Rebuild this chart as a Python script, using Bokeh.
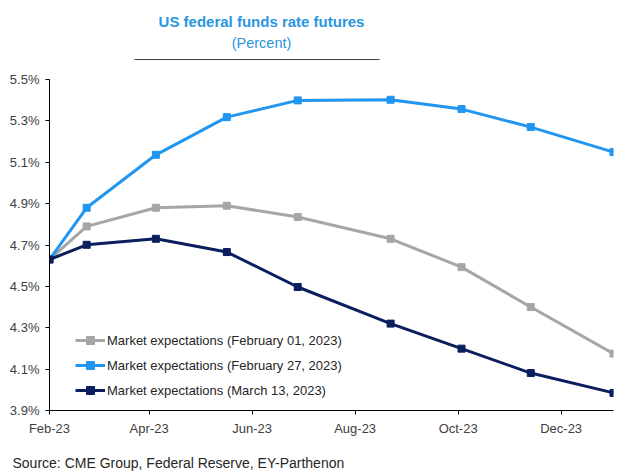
import pandas as pd
from bokeh.plotting import figure
from bokeh.layouts import column
from bokeh.core.properties import value
from bokeh.models import (FixedTicker, PrintfTickFormatter, DatetimeTickFormatter,
                          Range1d, ColumnDataSource, Legend, LegendItem)
from bokeh.embed import file_html
from bokeh.resources import INLINE

# ---- data ----
dates = ["2023-02-01", "2023-02-23", "2023-04-05", "2023-05-17", "2023-06-28",
         "2023-08-22", "2023-10-03", "2023-11-13", "2024-01-01"]
feb01 = [4.63, 4.79, 4.88, 4.89, 4.835, 4.73, 4.593, 4.40, 4.175]
feb27 = [4.63, 4.88, 5.136, 5.318, 5.399, 5.402, 5.357, 5.27, 5.149]
mar13 = [4.63, 4.701, 4.73, 4.666, 4.497, 4.32, 4.199, 4.081, 3.985]
series_names = ["Market expectations (February 01, 2023)",
                "Market expectations (February 27, 2023)",
                "Market expectations (March 13, 2023)"]
series_colors = ["#A6A6A6", "#2196F0", "#0B1F5E"]
x_tick_dates = ["2023-02-01", "2023-04-01", "2023-06-01", "2023-08-01", "2023-10-01", "2023-12-01"]
y_ticks = [3.9, 4.1, 4.3, 4.5, 4.7, 4.9, 5.1, 5.3, 5.5]
title_text = "US federal funds rate futures"
subtitle_text = "(Percent)"
source_text = "Source: CME Group, Federal Reserve, EY-Parthenon"

x = pd.to_datetime(dates)
FONT = "Liberation Sans"
TITLE_COLOR = "#2A95DF"


def blank(h):
    f = figure(width=630, height=h, output_backend="svg", toolbar_location=None,
               x_range=Range1d(0, 630), y_range=Range1d(h, 0),
               x_axis_location=None, y_axis_location=None,
               min_border=0, min_border_left=0, min_border_right=0,
               min_border_top=0, min_border_bottom=0, frame_align=False)
    f.outline_line_color = None
    f.xgrid.visible = False
    f.ygrid.visible = False
    return f

# ---- header ----
header = blank(71)
header.text(x=[261], y=[21], text=[title_text], text_align="center", text_baseline="middle",
            text_font=value(FONT), text_font_style="bold",
            text_font_size="15px", text_color=TITLE_COLOR)
header.text(x=[261], y=[42], text=[subtitle_text], text_align="center", text_baseline="middle",
            text_font=value(FONT), text_font_size="14.5px",
            text_color=TITLE_COLOR)
header.segment(x0=[134], y0=[59], x1=[379], y1=[59], line_color="#404040", line_width=1.2)

# ---- main chart ----
p = figure(width=630, height=369, output_backend="svg", toolbar_location=None,
           x_axis_type="datetime",
           x_range=Range1d(pd.Timestamp("2023-02-01"), pd.Timestamp("2024-01-01")),
           y_range=Range1d(3.9, 5.5),
           min_border_left=49, min_border_right=17, min_border_top=8, min_border_bottom=30,
           frame_align=False)
p.outline_line_color = None
p.xgrid.visible = False
p.ygrid.visible = False

items = []
for vals, name, col in zip([feb01, feb27, mar13], series_names, series_colors):
    src = ColumnDataSource(dict(x=x, y=vals))
    r1 = p.line("x", "y", source=src, line_color=col, line_width=3)
    r2 = p.scatter("x", "y", source=src, marker="square", size=7, fill_color=col, line_color=col)
    items.append(LegendItem(label=name, renderers=[r1, r2]))

legend = Legend(items=items, location=(26, 10), border_line_color=None,
                background_fill_alpha=0, glyph_width=30, glyph_height=20, spacing=5,
                padding=0, margin=0, label_standoff=2, label_text_font=FONT,
                label_text_font_size="13px", label_text_color="#262626")
p.add_layout(legend, "center")

xa = p.xaxis[0]
xa.ticker = FixedTicker(ticks=[pd.Timestamp(d).value / 1e6 for d in x_tick_dates])
xa.formatter = DatetimeTickFormatter(days="%b-%y", months="%b-%y", years="%b-%y")
xa.minor_tick_line_color = None
xa.major_tick_in = 0
xa.major_tick_out = 4
xa.axis_line_color = "black"
xa.major_tick_line_color = "black"
xa.major_label_text_font = FONT
xa.major_label_text_font_size = "13px"
xa.major_label_text_color = "#404040"
xa.major_label_standoff = 6

ya = p.yaxis[0]
ya.ticker = FixedTicker(ticks=y_ticks)
ya.formatter = PrintfTickFormatter(format="%.1f%%")
ya.minor_tick_line_color = None
ya.major_tick_in = 0
ya.major_tick_out = 4
ya.axis_line_color = "black"
ya.major_tick_line_color = "black"
ya.major_label_text_font = FONT
ya.major_label_text_font_size = "13px"
ya.major_label_text_color = "#404040"
ya.major_label_standoff = 6

# ---- footer ----
footer = blank(33)
footer.text(x=[12], y=[22], text=[source_text], text_align="left", text_baseline="middle",
            text_font=value(FONT), text_font_size="14px", text_color="#262626")

layout = column(header, p, footer, spacing=0)
open("out.html", "w").write(file_html(layout, INLINE))
